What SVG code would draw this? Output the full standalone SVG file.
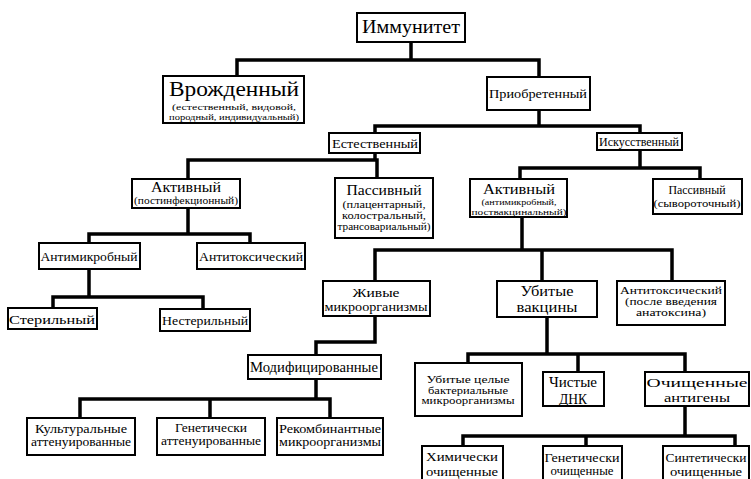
<svg xmlns="http://www.w3.org/2000/svg" width="751" height="479" viewBox="0 0 751 479">
<style>
.b{fill:#fff;stroke:#000;stroke-width:2}
.c{fill:none;stroke:#000;stroke-width:3.5;stroke-linecap:square;stroke-linejoin:miter}
text{fill:#000;text-anchor:middle;font-weight:400}
</style>
<rect width="751" height="479" fill="#fff"/>
<g id="connectors" class="c">
<path d="M411,42V60M237,76V60H539V77"/>
<path d="M539,110V126M375,133V126H640V133"/>
<path d="M375,153V160M188,178V160H377V178"/>
<path d="M640,150V168M520,179V168H700V179"/>
<path d="M188,208V234M89,243V234H250V243"/>
<path d="M89,270V297M53,308V297H203V309"/>
<path d="M522,217V250M375,281V250H672V281M542,250V281"/>
<path d="M375,316V342H316V355"/>
<path d="M316,379V399M80,418V399H330V418M210,399V418"/>
<path d="M547,317V354M468,363V354H685V372M578,354V372"/>
<path d="M685,406V436M463,446V436H735V446M586,436V446"/>
</g>
<g id="nodes" font-family="Liberation Serif, DejaVu Serif, Times New Roman, serif">
<g id="n-immunitet"><rect class="b" x="357" y="13" width="108" height="29"/><text x="411" y="33" font-size="19" lengthAdjust="spacingAndGlyphs" textLength="98">Иммунитет</text></g>
<g id="n-vrozhd"><rect class="b" x="163" y="76" width="141" height="47"/><text x="234" y="96" font-size="22" lengthAdjust="spacingAndGlyphs" textLength="130">Врожденный</text><text x="234" y="109.5" font-size="9" lengthAdjust="spacingAndGlyphs" textLength="124">(естественный, видовой,</text><text x="234" y="119.5" font-size="9" lengthAdjust="spacingAndGlyphs" textLength="130">породный, индивидуальный)</text></g>
<g id="n-priobr"><rect class="b" x="487" y="77" width="103" height="33"/><text x="538" y="98" font-size="13" lengthAdjust="spacingAndGlyphs" textLength="98">Приобретенный</text></g>
<g id="n-estestv"><rect class="b" x="329" y="133" width="91" height="20"/><text x="375" y="147.5" font-size="13" lengthAdjust="spacingAndGlyphs" textLength="86">Естественный</text></g>
<g id="n-iskusstv"><rect class="b" x="597" y="133" width="85" height="17"/><text x="639" y="145.5" font-size="11.5" lengthAdjust="spacingAndGlyphs" textLength="80">Искусственный</text></g>
<g id="n-aktiv1"><rect class="b" x="132" y="179" width="108" height="29"/><text x="186" y="192" font-size="14" lengthAdjust="spacingAndGlyphs" textLength="70">Активный</text><text x="186" y="204" font-size="10" lengthAdjust="spacingAndGlyphs" textLength="104">(постинфекционный)</text></g>
<g id="n-passiv1"><rect class="b" x="335" y="178" width="98" height="60"/><text x="384" y="195" font-size="14" lengthAdjust="spacingAndGlyphs" textLength="75">Пассивный</text><text x="384" y="207.5" font-size="9.5" lengthAdjust="spacingAndGlyphs" textLength="83">(плацентарный,</text><text x="384" y="218.5" font-size="9.5" lengthAdjust="spacingAndGlyphs" textLength="84">колостральный,</text><text x="384" y="229.5" font-size="9.5" lengthAdjust="spacingAndGlyphs" textLength="93">трансовариальный)</text></g>
<g id="n-aktiv2"><rect class="b" x="470" y="179" width="97" height="38"/><text x="519" y="194" font-size="14" lengthAdjust="spacingAndGlyphs" textLength="72">Активный</text><text x="519" y="205" font-size="9" lengthAdjust="spacingAndGlyphs" textLength="75">(антимикробный,</text><text x="519" y="215" font-size="9" lengthAdjust="spacingAndGlyphs" textLength="95">поствакцинальный)</text></g>
<g id="n-passiv2"><rect class="b" x="653" y="179" width="89" height="35"/><text x="697" y="194" font-size="12.5" lengthAdjust="spacingAndGlyphs" textLength="57">Пассивный</text><text x="697" y="207" font-size="10.5" lengthAdjust="spacingAndGlyphs" textLength="87">(сывороточный)</text></g>
<g id="n-antimikr"><rect class="b" x="39" y="243" width="101" height="26"/><text x="89" y="260.5" font-size="12.5" lengthAdjust="spacingAndGlyphs" textLength="97">Антимикробный</text></g>
<g id="n-antitox1"><rect class="b" x="197" y="243" width="108" height="26"/><text x="251" y="260.5" font-size="12.5" lengthAdjust="spacingAndGlyphs" textLength="104">Антитоксический</text></g>
<g id="n-steril"><rect class="b" x="8" y="308" width="89" height="21"/><text x="52" y="323.5" font-size="13.5" lengthAdjust="spacingAndGlyphs" textLength="86">Стерильный</text></g>
<g id="n-nesteril"><rect class="b" x="160" y="309" width="90" height="22"/><text x="205" y="324.5" font-size="12.5" lengthAdjust="spacingAndGlyphs" textLength="86">Нестерильный</text></g>
<g id="n-zhivye"><rect class="b" x="323" y="281" width="107" height="35"/><text x="376" y="297" font-size="12" lengthAdjust="spacingAndGlyphs" textLength="47">Живые</text><text x="376" y="310.5" font-size="12" lengthAdjust="spacingAndGlyphs" textLength="103">микроорганизмы</text></g>
<g id="n-ubitye"><rect class="b" x="497" y="281" width="100" height="36"/><text x="547" y="296" font-size="14.5" lengthAdjust="spacingAndGlyphs" textLength="53">Убитые</text><text x="547" y="312" font-size="14.5" lengthAdjust="spacingAndGlyphs" textLength="61">вакцины</text></g>
<g id="n-antitox2"><rect class="b" x="617" y="281" width="108" height="44"/><text x="671" y="293.5" font-size="10" lengthAdjust="spacingAndGlyphs" textLength="102">Антитоксический</text><text x="671" y="304.7" font-size="10" lengthAdjust="spacingAndGlyphs" textLength="92">(после введения</text><text x="671" y="315.9" font-size="10" lengthAdjust="spacingAndGlyphs" textLength="70">анатоксина)</text></g>
<g id="n-modif"><rect class="b" x="248" y="355" width="133" height="24"/><text x="314" y="371.5" font-size="14" lengthAdjust="spacingAndGlyphs" textLength="128">Модифицированные</text></g>
<g id="n-kultur"><rect class="b" x="27" y="418" width="108" height="37"/><text x="81" y="433" font-size="11.5" lengthAdjust="spacingAndGlyphs" textLength="92">Культуральные</text><text x="81" y="446" font-size="11.5" lengthAdjust="spacingAndGlyphs" textLength="100">аттенуированные</text></g>
<g id="n-genet1"><rect class="b" x="157" y="418" width="108" height="37"/><text x="211" y="432" font-size="11.5" lengthAdjust="spacingAndGlyphs" textLength="72">Генетически</text><text x="211" y="445" font-size="11.5" lengthAdjust="spacingAndGlyphs" textLength="100">аттенуированные</text></g>
<g id="n-rekomb"><rect class="b" x="277" y="418" width="106" height="37"/><text x="330" y="433" font-size="11.5" lengthAdjust="spacingAndGlyphs" textLength="102">Рекомбинантные</text><text x="330" y="446" font-size="11.5" lengthAdjust="spacingAndGlyphs" textLength="102">микроорганизмы</text></g>
<g id="n-ubitye-celye"><rect class="b" x="415" y="363" width="107" height="53"/><text x="468" y="383" font-size="9.5" lengthAdjust="spacingAndGlyphs" textLength="83">Убитые целые</text><text x="468" y="393.5" font-size="9.5" lengthAdjust="spacingAndGlyphs" textLength="80">бактериальные</text><text x="468" y="404" font-size="9.5" lengthAdjust="spacingAndGlyphs" textLength="93">микроорганизмы</text></g>
<g id="n-dnk"><rect class="b" x="543" y="372" width="61" height="34"/><text x="573" y="386.5" font-size="15.5" lengthAdjust="spacingAndGlyphs" textLength="48">Чистые</text><text x="573" y="403.5" font-size="15.5" lengthAdjust="spacingAndGlyphs" textLength="28">ДНК</text></g>
<g id="n-ochishch"><rect class="b" x="645" y="372" width="104" height="34"/><text x="697" y="387" font-size="13.5" lengthAdjust="spacingAndGlyphs" textLength="101">Очищенные</text><text x="697" y="402" font-size="13.5" lengthAdjust="spacingAndGlyphs" textLength="66">антигены</text></g>
<g id="n-khim"><rect class="b" x="422" y="446" width="81" height="45"/><text x="462" y="461" font-size="13.5" lengthAdjust="spacingAndGlyphs" textLength="72">Химически</text><text x="462" y="475.5" font-size="13.5" lengthAdjust="spacingAndGlyphs" textLength="72">очищенные</text></g>
<g id="n-genet2"><rect class="b" x="543" y="446" width="79" height="45"/><text x="582" y="461.5" font-size="12" lengthAdjust="spacingAndGlyphs" textLength="75">Генетически</text><text x="582" y="475" font-size="12" lengthAdjust="spacingAndGlyphs" textLength="63">очищенные</text></g>
<g id="n-sintet"><rect class="b" x="663" y="446" width="86" height="45"/><text x="706" y="462" font-size="12.5" lengthAdjust="spacingAndGlyphs" textLength="81">Синтетически</text><text x="706" y="475.5" font-size="12.5" lengthAdjust="spacingAndGlyphs" textLength="72">очищенные</text></g>
</g>
</svg>
